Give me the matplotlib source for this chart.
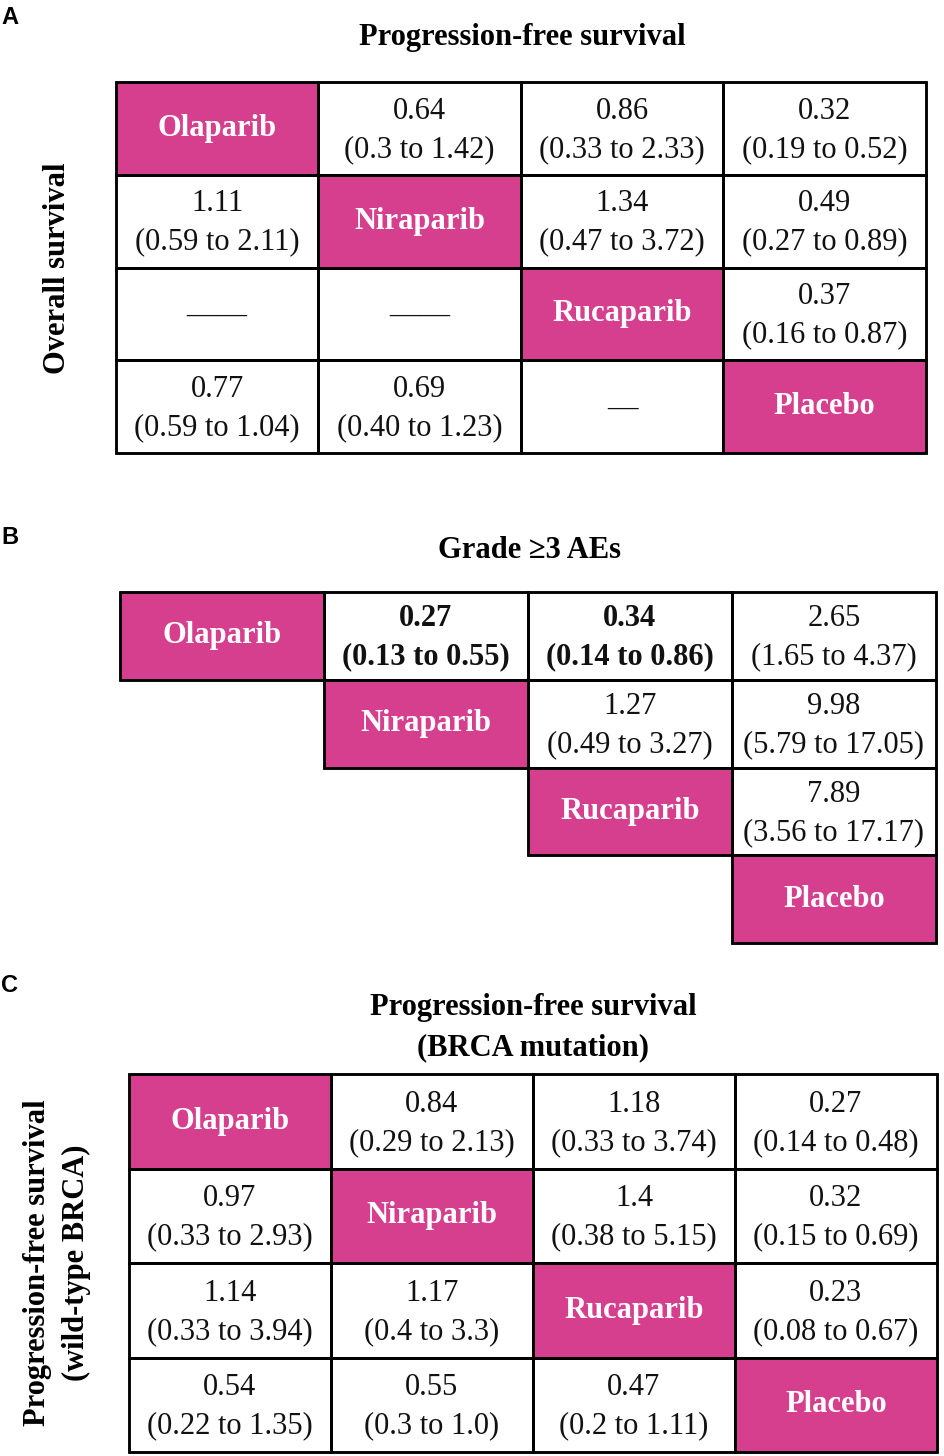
import matplotlib
matplotlib.use("Agg")
import matplotlib.pyplot as plt
from matplotlib.patches import Rectangle

W, H = 945, 1456
PINK = "#D63E8E"
SERIF = ["Liberation Serif", "DejaVu Serif"]
SANS = ["Liberation Sans", "DejaVu Sans"]

drugs = ["Olaparib", "Niraparib", "Rucaparib", "Placebo"]

# Panel A: upper = PFS, lower = OS
A_est = [[None, "0.64", "0.86", "0.32"],
         ["1.11", None, "1.34", "0.49"],
         ["——", "——", None, "0.37"],
         ["0.77", "0.69", "—", None]]
A_ci = [[None, "(0.3 to 1.42)", "(0.33 to 2.33)", "(0.19 to 0.52)"],
        ["(0.59 to 2.11)", None, "(0.47 to 3.72)", "(0.27 to 0.89)"],
        [None, None, None, "(0.16 to 0.87)"],
        ["(0.59 to 1.04)", "(0.40 to 1.23)", None, None]]

# Panel B: Grade >=3 AEs (upper triangle only)
B_est = [[None, "0.27", "0.34", "2.65"],
         [None, None, "1.27", "9.98"],
         [None, None, None, "7.89"],
         [None, None, None, None]]
B_ci = [[None, "(0.13 to 0.55)", "(0.14 to 0.86)", "(1.65 to 4.37)"],
        [None, None, "(0.49 to 3.27)", "(5.79 to 17.05)"],
        [None, None, None, "(3.56 to 17.17)"],
        [None, None, None, None]]
B_bold = [(0, 1), (0, 2)]

# Panel C: upper = PFS BRCA mutation, lower = PFS wild-type BRCA
C_est = [[None, "0.84", "1.18", "0.27"],
         ["0.97", None, "1.4", "0.32"],
         ["1.14", "1.17", None, "0.23"],
         ["0.54", "0.55", "0.47", None]]
C_ci = [[None, "(0.29 to 2.13)", "(0.33 to 3.74)", "(0.14 to 0.48)"],
        ["(0.33 to 2.93)", None, "(0.38 to 5.15)", "(0.15 to 0.69)"],
        ["(0.33 to 3.94)", "(0.4 to 3.3)", None, "(0.08 to 0.67)"],
        ["(0.22 to 1.35)", "(0.3 to 1.0)", "(0.2 to 1.11)", None]]

fig = plt.figure(figsize=(W / 100, H / 100), dpi=100)
FS = 22
LW = 1.8
LS = 1.42


def add_grid(x0, x1, y0, y1, est, ci, upper_only=False, bold=()):
    ax = fig.add_axes([x0 / W, 1 - y1 / H, (x1 - x0) / W, (y1 - y0) / H])
    ax.set_xlim(0, 4)
    ax.set_ylim(4, 0)
    ax.axis("off")
    n = len(drugs)
    for i in range(n):
        for j in range(n):
            if upper_only and j < i:
                continue
            diag = i == j
            ax.add_patch(Rectangle((j, i), 1, 1, facecolor=PINK if diag else "white",
                                   edgecolor="black", lw=LW, clip_on=False, zorder=1))
    for i in range(n):
        for j in range(n):
            if upper_only and j < i:
                continue
            ax.add_patch(Rectangle((j, i), 1, 1, facecolor="none",
                                   edgecolor="black", lw=LW, clip_on=False, zorder=3))
            if i == j:
                ax.text(j + 0.5, i + 0.5, drugs[i], ha="center", va="center",
                        color="white", fontsize=FS, fontweight="bold", family=SERIF, zorder=4)
            else:
                e = est[i][j]
                if e is None:
                    continue
                c = ci[i][j]
                s = e if c is None else e + "\n" + c
                fw = "bold" if (i, j) in bold else "normal"
                ax.text(j + 0.5, i + 0.52, s, ha="center", va="center", color="#111111",
                        fontsize=FS, fontweight=fw, family=SERIF, linespacing=LS, zorder=4)
    return ax


def ftext(px, py, s, **kw):
    fig.text(px / W, 1 - py / H, s, **kw)


# Panel A
ftext(1, 18, "A", fontsize=17, fontweight="bold", family=SANS, ha="left", va="center")
ftext(522, 37, "Progression-free survival", fontsize=FS, fontweight="bold", family=SERIF,
      ha="center", va="center")
ftext(58, 268, "Overall survival", fontsize=FS, fontweight="bold", family=SERIF,
      ha="center", va="center", rotation=90)
add_grid(116, 926, 82, 453, A_est, A_ci)

# Panel B
ftext(1, 538, "B", fontsize=17, fontweight="bold", family=SANS, ha="left", va="center")
ftext(530, 550, "Grade ≥3 AEs", fontsize=FS, fontweight="bold", family=SERIF,
      ha="center", va="center")
add_grid(120, 936, 592, 943, B_est, B_ci, upper_only=True, bold=B_bold)

# Panel C
ftext(1, 985, "C", fontsize=17, fontweight="bold", family=SANS, ha="left", va="center")
ftext(533, 1028, "Progression-free survival\n(BRCA mutation)", fontsize=FS, fontweight="bold",
      family=SERIF, ha="center", va="center", linespacing=1.5)
ftext(57, 1263, "Progression-free survival\n(wild-type BRCA)", fontsize=FS, fontweight="bold",
      family=SERIF, ha="center", va="center", rotation=90, linespacing=1.45)
add_grid(129, 937, 1074, 1452, C_est, C_ci)

fig.savefig("out.png", dpi=100, facecolor="white")
